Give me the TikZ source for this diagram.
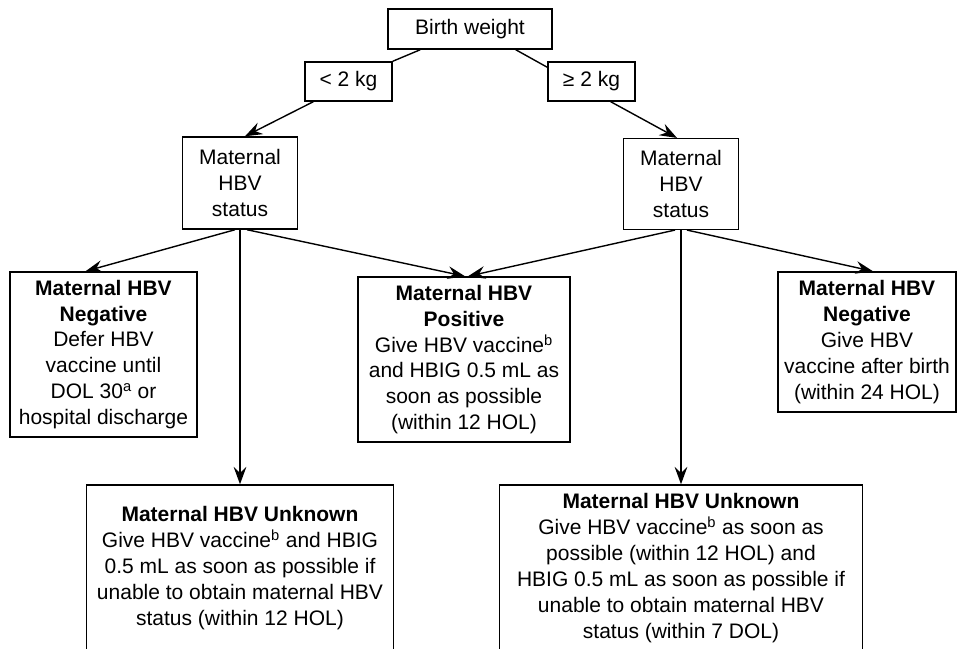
\documentclass[tikz,border=0pt]{standalone}
\usepackage{fontspec}
\setmainfont{Liberation Sans}
\usepackage{tikz}
\usepackage{xcolor}
\usetikzlibrary{arrows.meta}

\begin{document}
\begin{tikzpicture}[x=0.75pt,y=-0.75pt,
    box/.style={draw, line width=1.1pt, align=center, inner sep=0pt,
        font=\fontsize{15.75pt}{19.4pt}\selectfont},
    link/.style={line width=1.05pt},
    arr/.style={line width=1.05pt, -{Stealth[length=13pt,width=9.5pt,inset=4.5pt]}}]
            \useasboundingbox (0,0) rectangle (957,649);
            \clip (0,0) rectangle (957,649);

            % draw boxes
	    \node[box, minimum width=123pt, minimum height=30pt] (birth) at (470,29) {Birth weight};
	    \node[box, minimum width=65.25pt, minimum height=29.25pt] (lt) at (348.5,81.5) {< 2 kg};
	    \node[box, minimum width=65.25pt, minimum height=29.25pt] (ge) at (591.5,81.5) {≥ 2 kg};
	    \node[box, minimum width=86.25pt, minimum height=69pt] (statL) at (240,183) {Maternal\\HBV\\status};
	    \node[box, minimum width=86.25pt, minimum height=68pt] (statR) at (681,184) {Maternal\\HBV\\status};
	    \node[box, minimum width=140.25pt, minimum height=123.75pt] (negL) at (103.5,354.5)
	        {\textbf{Maternal HBV}\\\textbf{Negative}\\Defer HBV\\vaccine until\\DOL 30\textsuperscript{a} or\\hospital discharge};
	    \node[box, minimum width=159pt, minimum height=123.75pt] (pos) at (464,359.5)
	        {\textbf{Maternal HBV}\\\textbf{Positive}\\Give HBV vaccine\textsuperscript{b}\\and HBIG 0.5 mL as\\soon as possible\\(within 12 HOL)};
	    \node[box, minimum width=133.5pt, minimum height=105pt] (negR) at (867,342)
	        {\textbf{Maternal HBV}\\\textbf{Negative}\\Give HBV\\vaccine after birth\\(within 24 HOL)};
	    \node[box, minimum width=230.25pt, minimum height=124.5pt] (unkL) at (240,568)
	        {\textbf{Maternal HBV Unknown}\\Give HBV vaccine\textsuperscript{b} and HBIG\\0.5 mL as soon as possible if\\unable to obtain maternal HBV\\status (within 12 HOL)};
	    \node[box, minimum width=272.25pt, minimum height=124.5pt] (unkR) at (681,568)
	        {\textbf{Maternal HBV Unknown}\\Give HBV vaccine\textsuperscript{b} as soon as\\possible (within 12 HOL) and\\HBIG 0.5 mL as soon as possible if\\unable to obtain maternal HBV\\status (within 7 DOL)};

            % draw connectors
            \draw[link] ([xshift=24.75pt]birth.south west) -- (lt.north east);
            \draw[link] ([xshift=-27.75pt]birth.south east) -- ([yshift=-4.5pt]ge.north west);
            \draw[arr] ([xshift=6.75pt]lt.south west) -- ([xshift=3.75pt]statL.north);
            \draw[arr] ([xshift=-18.75pt]ge.south east) -- ([xshift=-3pt]statR.north);

            \draw[arr] ([xshift=-3.75pt]statL.south) -- ([xshift=-13.5pt]negL.north);
            \draw[arr] (statL.south) -- (unkL.north);
            \draw[arr] ([xshift=5.25pt]statL.south) -- ([xshift=0.75pt]pos.north);
            \draw[arr] ([xshift=-4.5pt]statR.south) -- ([xshift=3pt]pos.north);
            \draw[arr] (statR.south) -- (unkR.north);
            \draw[arr] ([xshift=4.5pt]statR.south) -- ([xshift=4.5pt]negR.north);
        \end{tikzpicture}
\end{document}
